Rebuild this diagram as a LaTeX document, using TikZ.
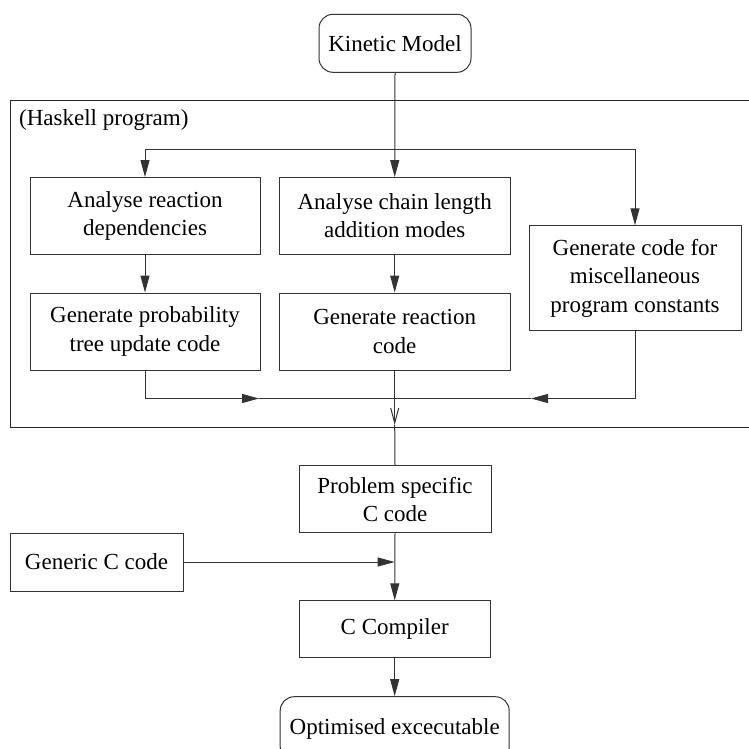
\documentclass[tikz,border=0pt]{standalone}
\usepackage{fontspec}
\setmainfont{Liberation Serif}
\usetikzlibrary{arrows.meta}

\begin{document}
\begin{tikzpicture}[
  x=1pt, y=-1pt,
  font=\fontsize{23}{28.5}\selectfont,
  box/.style={draw=black!80, line width=1pt, align=center, inner sep=0pt},
  terminal/.style={box, rounded corners=14pt},
  frame/.style={draw=black!85, line width=1pt},
  link/.style={draw=black!80, line width=1pt},
  flow/.style={-{Triangle[length=17pt, width=9pt]}, draw=black!80, line width=1pt},
  openflow/.style={-{Straight Barb[length=15pt, width=8pt]}, draw=black!80, line width=1pt}
]
\useasboundingbox (0,0) rectangle (749,749);

% Input model
\node[terminal, minimum width=152pt, minimum height=58pt] (kinetic) at (395,43.3) {Kinetic Model};

% Haskell program frame (open on the right)
\draw[frame] (749,100.5) -- (10.5,100.5) -- (10.5,427) -- (749,427);
\node[anchor=west, inner sep=0pt] (haskellLbl) at (19,120) {(Haskell program)};

% Haskell stages
\node[box, minimum width=230pt, minimum height=76.5pt] (reactDep)  at (145,215.8) {Analyse reaction\\dependencies};
\node[box, minimum width=231pt, minimum height=76.5pt] (chainMode) at (394.7,215.8) {Analyse chain length\\addition modes};
\node[box, minimum width=230pt, minimum height=77pt]   (probTree)  at (145,331.5) {Generate probability\\tree update code};
\node[box, minimum width=231pt, minimum height=77pt]   (reactCode) at (394.7,331.5) {Generate reaction\\code};
\node[box, minimum width=212pt, minimum height=105pt]  (miscConst) at (635,278.3) {Generate code for\\miscellaneous\\program constants};

% C side
\node[box, minimum width=192pt, minimum height=67pt] (problem)  at (395,499.3) {Problem specific\\C code};
\node[box, minimum width=173pt, minimum height=58pt] (generic)  at (96.5,562) {Generic C code};
\node[box, minimum width=191pt, minimum height=57pt] (compiler) at (394.7,629.3) {C Compiler};
\node[terminal, minimum width=229pt, minimum height=64pt] (optim) at (394.7,728.7) {Optimised excecutable};

% Junction points
\coordinate (split) at (394.7,149);
\coordinate (merge) at (394.7,398.5);
\coordinate (arrL)  at (259,398.5);
\coordinate (arrR)  at (531,398.5);
\coordinate (hasOut) at (394.7,425);
\coordinate (join)  at (394.7,562);

% Fan-out into the Haskell stages
\draw[flow] (kinetic.south) -- (chainMode.north);
\draw[flow] (split) -| (reactDep.north);
\draw[flow] (split) -| (miscConst.north);
\draw[flow] (reactDep) -- (probTree);
\draw[flow] (chainMode) -- (reactCode);

% Fan-in of generated code
\draw[flow] (probTree.south) |- (arrL);
\draw[link] (arrL) -- (merge);
\draw[flow] (miscConst.south) |- (arrR);
\draw[link] (arrR) -- (merge);
\draw[openflow] (reactCode.south) -- (hasOut);
\draw[link] (hasOut) -- (problem.north);

% Compilation
\draw[flow] (generic.east) -- (join);
\draw[flow] (problem.south) -- (compiler.north);
\draw[flow] (compiler.south) -- (optim.north);
\end{tikzpicture}
\end{document}
